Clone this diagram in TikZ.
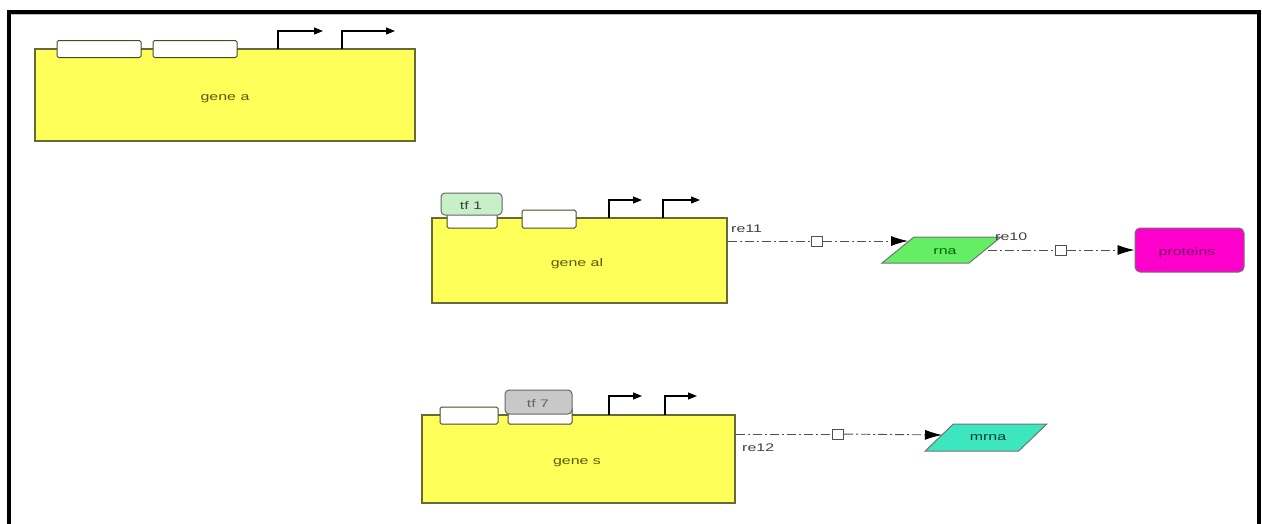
\documentclass[tikz,border=0pt]{standalone}
\usepackage{fontspec}
\setmainfont{Liberation Sans}
\usepackage{graphicx}
\usetikzlibrary{arrows.meta}
\newcommand{\wt}[1]{\scalebox{1.45}[1]{#1}}
\definecolor{geneyel}{RGB}{255,255,90}
\definecolor{geneedge}{RGB}{105,105,55}
\definecolor{genetxt}{RGB}{90,90,10}
\definecolor{tfgreen}{RGB}{200,240,200}
\definecolor{tfgray}{RGB}{200,200,200}
\definecolor{rnagreen}{RGB}{100,238,100}
\definecolor{mrnacol}{RGB}{60,230,190}
\definecolor{protcol}{RGB}{255,0,204}
\definecolor{prottxt}{RGB}{120,0,100}
\definecolor{linegray}{RGB}{80,80,80}
\tikzset{
  genebox/.style={draw=geneedge, fill=geneyel, line width=1.1pt, inner sep=0pt},
  genetext/.style={text=genetxt, inner sep=0pt, font=\fontsize{11}{13}\selectfont},
  sitebox/.style={draw=geneedge!70!black, fill=white, line width=1pt, rounded corners=1.5pt, inner sep=0pt},
  tfbox/.style={draw=black!60, line width=1pt, rounded corners=4pt, inner sep=0pt, text=black!75, font=\fontsize{11}{13}\selectfont},
  prom/.style={line width=1.2pt, -{Triangle[length=9pt,width=7pt]}},
  conn/.style={draw=linegray, line width=0.9pt, dash pattern=on 9pt off 3pt on 2pt off 3pt},
  connarr/.style={conn, -{Latex[length=17pt,width=10pt,color=black]}},
  sq/.style={draw=linegray, fill=white, line width=1pt, minimum width=11pt, minimum height=10pt, inner sep=0pt},
  lbl/.style={text=black!75, inner sep=0pt, font=\fontsize{11}{13}\selectfont},
  para/.style={draw=black!55, line width=1pt, inner sep=0pt},
}
\begin{document}
\begin{tikzpicture}[x=1pt,y=-1pt]
\useasboundingbox (0,0) rectangle (1262,523);
\fill[white] (0,0) rectangle (1262,523);
% frame
\draw[line width=4pt, miter limit=10] (9,530) -- (9,12) -- (1259,12) -- (1259,530);
\draw[black!25, line width=0.8pt] (11,14.6) -- (1257,14.6);

% ---------- gene a ----------
\node[genebox, minimum width=380pt, minimum height=92pt] (genea) at (225,95) {};
\node[genetext] (geneatxt) at (225,99) {\wt{gene a}};
\node[sitebox, minimum width=84pt, minimum height=17pt] (ga1) at (99,49) {};
\node[sitebox, minimum width=84pt, minimum height=17pt] (ga2) at (195,49) {};
\coordinate (gap1) at (278,49);
\coordinate (gap2) at (342,49);
\draw[prom] (gap1) -- ++(0,-18) -- ++(45,0);
\draw[prom] (gap2) -- ++(0,-18) -- ++(53,0);

% ---------- gene al ----------
\node[genebox, minimum width=295pt, minimum height=85pt] (geneal) at (579.5,260.5) {};
\node[genetext] (genealtxt) at (577,264) {\wt{gene al}};
\node[sitebox, minimum width=50pt, minimum height=16pt] (gal1) at (472,220) {};
\node[sitebox, minimum width=54pt, minimum height=18pt] (gal2) at (549,219) {};
\node[tfbox, fill=tfgreen, minimum width=61pt, minimum height=22pt] (tf1) at (471.5,204) {};
\node[lbl] (tf1txt) at (471,206) {\wt{tf 1}};
\coordinate (galp1) at (609,218);
\coordinate (galp2) at (663,218);
\draw[prom] (galp1) -- ++(0,-18) -- ++(33,0);
\draw[prom] (galp2) -- ++(0,-18) -- ++(37,0);

% ---------- gene s ----------
\node[genebox, minimum width=313pt, minimum height=88pt] (genes) at (578.5,459) {};
\node[genetext] (genestxt) at (577,463) {\wt{gene s}};
\node[sitebox, minimum width=58pt, minimum height=17pt] (gs1) at (469,415.5) {};
\node[sitebox, minimum width=64pt, minimum height=17pt] (gs2) at (540,415.5) {};
\node[tfbox, fill=tfgray, minimum width=67pt, minimum height=24pt] (tf7) at (538.5,402) {};
\node[lbl, text=black!60] (tf7txt) at (538,404) {\wt{tf 7}};
\coordinate (gsp1) at (609,415);
\coordinate (gsp2) at (665,415);
\draw[prom] (gsp1) -- ++(0,-19) -- ++(33,0);
\draw[prom] (gsp2) -- ++(0,-19) -- ++(32,0);

% ---------- rna ----------
\node[para, fill=rnagreen, xslant=1.23, minimum width=87pt, minimum height=26pt] (rnabox) at (941.5,250) {};
\node[lbl, text=black!60!green] (rna) at (945,252) {\wt{rna}};
% ---------- mrna ----------
\node[para, fill=mrnacol, xslant=1.04, minimum width=93.5pt, minimum height=27pt] (mrnabox) at (986,437.5) {};
\node[lbl, text=black!55!teal] (mrna) at (988,438) {\wt{mrna}};
% ---------- proteins ----------
\node[draw=black!55, fill=protcol, line width=1pt, rounded corners=5pt, minimum width=109pt, minimum height=44pt, inner sep=0pt] (prot) at (1189.5,250) {};
\node[lbl, text=prottxt] (prottext) at (1187,253) {\wt{proteins}};

% ---------- connectors ----------
\node[sq] (sq11) at (817,241) {};
\coordinate (rnaIn) at (908,241);
\draw[conn] (geneal.east |- sq11) -- (sq11);
\draw[connarr] (sq11) -- (rnaIn);
\node[lbl, anchor=west] (re11) at (731,229) {\wt{re11}};

\node[sq] (sq10) at (1061,250) {};
\coordinate (rnaOut) at (988,250);
\draw[conn] (rnaOut) -- (sq10);
\draw[connarr] (sq10) -- (prot.west);
\node[lbl, anchor=west] (re10) at (995,237) {\wt{re10}};

\node[sq] (sq12) at (838,434) {};
\coordinate (mrnaIn) at (942,435);
\draw[conn] (genes.east |- sq12) -- (sq12);
\draw[connarr] (sq12) -- (mrnaIn);
\node[lbl, anchor=west] (re12) at (742,448) {\wt{re12}};
\end{tikzpicture}
\end{document}
